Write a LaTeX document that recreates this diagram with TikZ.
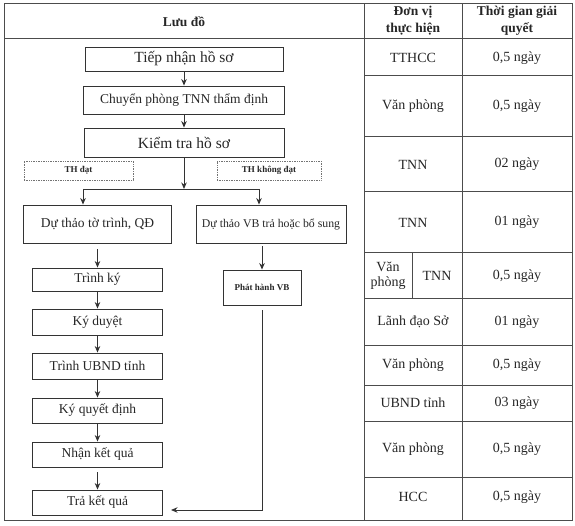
\documentclass[tikz,border=0pt]{standalone}
\usepackage{fontspec}
\setmainfont{Liberation Serif}
\usetikzlibrary{arrows.meta}

\begin{document}
\begin{tikzpicture}[x=1pt,y=-1pt,
    tbl/.style={draw=black!70,line width=1pt},
    cell/.style={text=black!85,font=\fontsize{14}{16}\selectfont,align=center},
    hcell/.style={cell,font=\fontsize{13.5}{17}\selectfont\bfseries}]
\useasboundingbox (0,0) rectangle (575,526);

% khung bang
\draw[tbl] (4,4) rectangle (572,520);
\draw[tbl] (4,39) -- (572,39);
\draw[tbl] (364,4) -- (364,520);
\draw[tbl] (462,4) -- (462,520);
\draw[tbl] (364,76) -- (572,76);
\draw[tbl] (364,137) -- (572,137);
\draw[tbl] (364,192) -- (572,192);
\draw[tbl] (364,253) -- (572,253);
\draw[tbl] (412,253) -- (412,299);
\draw[tbl] (364,299) -- (572,299);
\draw[tbl] (364,345) -- (572,345);
\draw[tbl] (364,385) -- (572,385);
\draw[tbl] (364,421) -- (572,421);
\draw[tbl] (364,477) -- (572,477);

\begin{scope}[every node/.style={cell}]
    \node[hcell] (H1) at (184,22) {Lưu đồ};
    \node[hcell] (H2) at (413,21) {Đơn vị\\thực hiện};
    \node[hcell] (H3) at (517,21) {Thời gian giải\\quyết};
    \node (U1) at (413,58) {TTHCC};
    \node (U2) at (413,106.5) {Văn phòng};
    \node (U3) at (413,164.5) {TNN};
    \node (U4) at (413,222.5) {TNN};
    \node[font=\fontsize{14}{15}\selectfont] (U5a) at (388,276) {Văn\\phòng};
    \node (U5b) at (437,276) {TNN};
    \node (U6) at (413,322) {Lãnh đạo Sở};
    \node (U7) at (413,365) {Văn phòng};
    \node (U8) at (413,403) {UBND tỉnh};
    \node (U9) at (413,449) {Văn phòng};
    \node (U10) at (413,497) {HCC};
    \node (T1) at (517,58) {0,5 ngày};
    \node (T2) at (517,106.5) {0,5 ngày};
    \node (T3) at (517,164.5) {02 ngày};
    \node (T4) at (517,222.5) {01 ngày};
    \node (T5) at (517,276) {0,5 ngày};
    \node (T6) at (517,322) {01 ngày};
    \node (T7) at (517,365) {0,5 ngày};
    \node (T8) at (517,403) {03 ngày};
    \node (T9) at (517,449) {0,5 ngày};
    \node (T10) at (517,497) {0,5 ngày};
\end{scope}

\begin{scope}[every node/.style={rectangle,draw=black!80,line width=0.9pt,text=black!85,
              inner sep=1pt,font=\fontsize{13.5}{15}\selectfont}]
    \node[minimum width=198pt,minimum height=24pt,font=\fontsize{15.5}{17}\selectfont] (TN) at (184,59) {Tiếp nhận hồ sơ};
    \node[minimum width=201pt,minimum height=28pt] (CP) at (184,100) {Chuyển phòng TNN thẩm định};
    \node[minimum width=200pt,minimum height=29pt,font=\fontsize{15.5}{17}\selectfont] (KT) at (184,142.5) {Kiểm tra hồ sơ};
    \node[minimum width=109pt,minimum height=19pt,draw=black!55,line width=0.7pt,densely dotted,
          font=\fontsize{9}{10}\selectfont\bfseries] (THD) at (78.5,170.5) {TH đạt};
    \node[minimum width=104pt,minimum height=19pt,draw=black!55,line width=0.7pt,densely dotted,
          font=\fontsize{9}{10}\selectfont\bfseries] (THK) at (269,170.5) {TH không đạt};
    \node[minimum width=148pt,minimum height=38pt] (DT) at (97.5,224) {Dự thảo tờ trình, QĐ};
    \node[minimum width=150pt,minimum height=38pt,font=\fontsize{11.8}{13}\selectfont] (DV) at (271,224) {Dự thảo VB trả hoặc bổ sung};
    \node[minimum width=130pt,minimum height=23pt] (TK) at (97.5,279.5) {Trình ký};
    \node[minimum width=130pt,minimum height=26pt] (KD) at (97.5,322) {Ký duyệt};
    \node[minimum width=130pt,minimum height=26pt] (TU) at (97.5,366) {Trình UBND tỉnh};
    \node[minimum width=130pt,minimum height=25pt] (KQ) at (97.5,410.5) {Ký quyết định};
    \node[minimum width=130pt,minimum height=25pt] (NK) at (97.5,454.5) {Nhận kết quả};
    \node[minimum width=130pt,minimum height=25pt] (TR) at (97.5,502.5) {Trả kết quả};
    \node[minimum width=78pt,minimum height=35pt,font=\fontsize{9}{10}\selectfont\bfseries] (PH) at (262,287.5) {Phát hành VB};
\end{scope}

\coordinate (JM) at (184,189);
\coordinate (JL) at (83,189);
\coordinate (JR) at (259,189);
\coordinate (RC) at (262,510);
\coordinate (RE) at (171,510);

\begin{scope}[>={Stealth[length=6.5pt,width=5.5pt]},
              every edge/.style={draw=black!80,line width=0.9pt}]
    % nhanh chinh
    \path [->] (TN) edge (CP);
    \path [->] (CP) edge (KT);
    \path [->] (KT) edge (JM);
    \path (JL) edge (JR);
    \path [->] (JL) edge (JL |- DT.north);
    \path [->] (JR) edge (JR |- DV.north);
    % dat
    \path [->] (DT) edge[shorten <=6pt] (TK);
    \path [->] (TK) edge (KD);
    \path [->] (KD) edge (TU);
    \path [->] (TU) edge (KQ);
    \path [->] (KQ) edge (NK);
    \path [->] (NK) edge[shorten <=5pt] (TR);
    % khong dat
    \path [->] (PH |- DV.south) edge[shorten <=3pt] (PH.north);
    \draw [->,draw=black!80,line width=0.9pt,shorten <=5pt] (PH.south) -- (RC) -- (RE);
\end{scope}
\end{tikzpicture}
\end{document}
